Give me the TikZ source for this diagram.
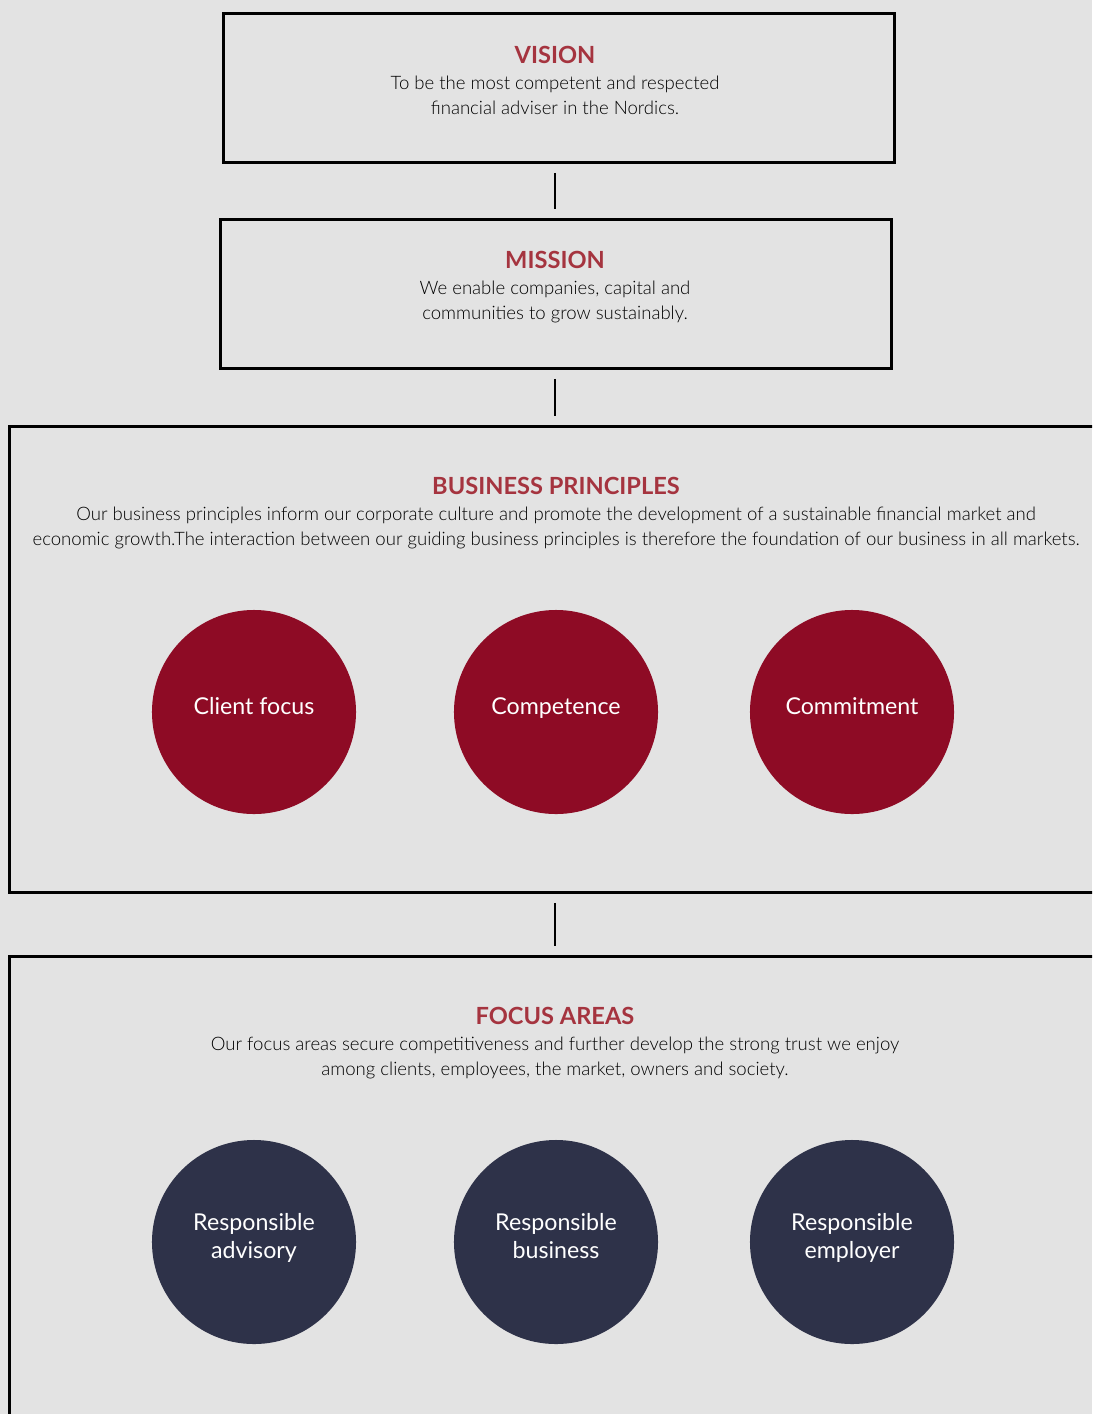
\documentclass[tikz,border=0pt]{standalone}
\usepackage{fontspec}
\setmainfont{Lato}
\newfontfamily\lightfont{Lato Light}
\usetikzlibrary{positioning}

\definecolor{pagegray}{HTML}{E3E3E3}
\definecolor{titlered}{HTML}{A5343F}
\definecolor{wine}{HTML}{8E0B25}
\definecolor{navy}{HTML}{2E3249}

\tikzset{
  frame/.style = {draw, line width = 2.1pt, rectangle, inner sep = 0pt},
  heading/.style = {text = titlered, inner sep = 0pt,
    font = \fontsize{16.8}{20}\selectfont\bfseries},
  body/.style = {text = black, align = center, inner sep = 0pt,
    font = \lightfont\fontsize{13.2}{17.7}\selectfont},
  bubble/.style = {circle, minimum size = 5.1cm, inner sep = 0pt},
  bubbletext/.style = {text = white, align = center, inner sep = 0pt,
    text depth = 0pt, yshift = 0.16cm,
    font = \fontsize{16.5}{19.8}\selectfont},
  link/.style = {line width = 1.4pt, shorten < = 0.22cm, shorten > = 0.22cm}
}

\begin{document}
\begin{tikzpicture}[x = 0.025cm, y = -0.025cm]

  \fill[pagegray] (0, 0) rectangle (1092, 1414);
  \useasboundingbox (0, 0) rectangle (1092, 1414);
  \clip (0, 0) rectangle (1092, 1414);

  % frames
  \node[frame, minimum width = 16.775cm, minimum height = 3.725cm,
    anchor = north west] (vision) at (222, 12) {};
  \node[frame, minimum width = 16.775cm, minimum height = 3.725cm,
    anchor = north west] (mission) at (219, 218) {};
  \node[frame, minimum width = 27.6cm, minimum height = 11.65cm,
    anchor = north west] (principles) at (8, 425) {};
  \node[frame, minimum width = 27.6cm, minimum height = 12cm,
    anchor = north west] (focus) at (8, 955) {};

  \draw[link] (vision.south -| 555, 0) -- (mission.north -| 555, 0);
  \draw[link] (mission.south -| 555, 0) -- (principles.north -| 555, 0);
  \draw[link] (principles.south -| 555, 0) -- (focus.north -| 555, 0);

  % texts
  \node[heading] (visiontitle) at (555, 55) {VISION};
  \node[body, below = 8.5pt of visiontitle] (visiontext)
    {To be the most competent and respected\\
     financial adviser in the Nordics.};

  \node[heading] (missiontitle) at (555, 260) {MISSION};
  \node[body, below = 8.5pt of missiontitle] (missiontext)
    {We enable companies, capital and\\
     communities to grow sustainably.};

  \node[heading] (principlestitle) at (556, 486) {BUSINESS PRINCIPLES};
  \node[body, below = 8.5pt of principlestitle] (principlestext)
    {Our business principles inform our corporate culture and promote the
     development of a sustainable financial market and\\
     economic growth.The interaction between our guiding business principles
     is therefore the foundation of our business in all markets.};

  \node[heading] (focustitle) at (555, 1016) {FOCUS AREAS};
  \node[body, below = 8.5pt of focustitle] (focustext)
    {Our focus areas secure competitiveness and further develop the strong
     trust we enjoy\\
     among clients, employees, the market, owners and society.};

  % circles
  \foreach \name/\x/\txt in {client/254/Client focus,
      competence/556/Competence, commitment/852/Commitment} {
    \node[bubble, fill = wine,
      label = {[bubbletext]center:\txt}] (\name) at (\x, 712) {};
  }

  \foreach \name/\x/\txt in {advisory/254/{Responsible\\advisory},
      business/556/{Responsible\\business},
      employer/852/{Responsible\\employer}} {
    \node[bubble, fill = navy,
      label = {[bubbletext]center:\txt}] (\name) at (\x, 1242) {};
  }

\end{tikzpicture}
\end{document}
